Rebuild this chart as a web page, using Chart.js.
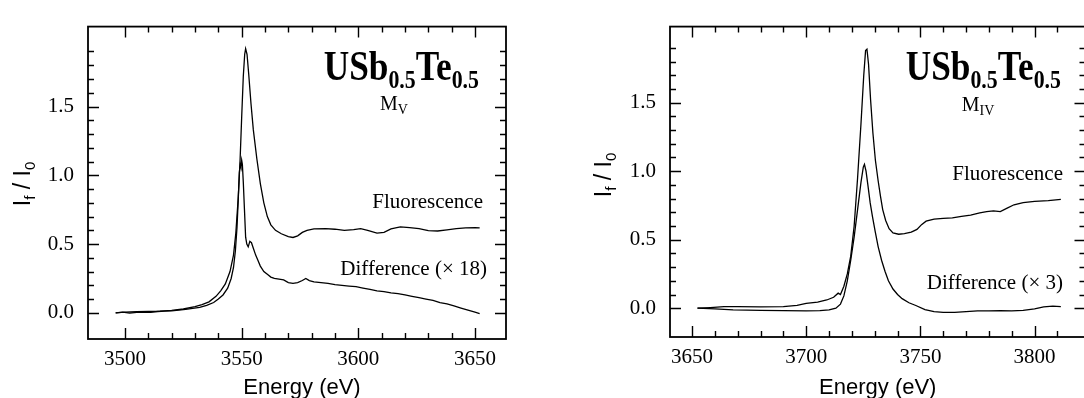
<!DOCTYPE html>
<html><head><meta charset="utf-8">
<script src="https://cdn.jsdelivr.net/npm/chart.js@4.4.0/dist/chart.umd.min.js"></script>
<style>
html,body{margin:0;padding:0;background:#fff;overflow:hidden;width:1084px;height:398px;}
#w1{position:absolute;left:0;top:0;width:540px;height:398px;}
#w2{position:absolute;left:544px;top:0;width:560px;height:398px;}
</style></head><body>
<div id="w1"><canvas id="c1"></canvas></div>
<div id="w2"><canvas id="c2"></canvas></div>
<script>
// ---------- M_V panel data ----------
const mvFluoE = [3496,3500,3505,3510,3515,3520,3525,3530,3533,3536,3539,3541,3543,3545,3546.5,3547.5,3548.5,3549.3,3550,3550.7,3551.3,3551.7,3552.3,3553,3554,3555,3556.5,3558,3559.5,3561,3562.5,3564.5,3567,3570,3572,3574,3576,3578,3581,3586,3590,3594,3598,3601,3604,3608,3611,3614,3618,3622,3626,3630,3634,3638,3642,3646,3650,3652];
const mvFluo  = [0.00,0.005,0.008,0.01,0.012,0.018,0.028,0.045,0.06,0.08,0.12,0.16,0.21,0.30,0.42,0.58,0.83,1.10,1.42,1.72,1.88,1.92,1.88,1.74,1.52,1.33,1.12,0.94,0.80,0.70,0.64,0.60,0.575,0.555,0.548,0.56,0.585,0.60,0.61,0.612,0.608,0.60,0.605,0.612,0.60,0.58,0.585,0.61,0.625,0.62,0.612,0.598,0.595,0.603,0.612,0.618,0.62,0.618];
const mvDiffE = [3496,3499,3502,3505,3508,3511,3514,3517,3520,3523,3526,3529,3532,3535,3538,3540,3542,3544,3545.5,3546.5,3547.3,3548,3548.6,3549,3549.4,3549.7,3550,3550.3,3550.7,3551.2,3551.7,3552.2,3552.8,3553.5,3554.2,3555,3556,3557,3558,3559.5,3561,3562.5,3564,3566,3568,3570,3572,3574,3576,3577.5,3579,3581,3584,3587,3590,3593,3596,3599,3602,3605,3608,3611,3614,3617,3620,3623,3626,3629,3632,3635,3638,3641,3644,3647,3650,3652];
const mvDiff  = [0.00,0.005,-0.002,0.004,0.006,0.003,0.01,0.012,0.015,0.02,0.025,0.032,0.04,0.055,0.075,0.10,0.13,0.18,0.25,0.33,0.45,0.62,0.85,1.02,1.08,1.06,1.11,1.08,0.95,0.75,0.55,0.50,0.48,0.52,0.51,0.47,0.42,0.38,0.34,0.30,0.28,0.26,0.25,0.245,0.24,0.22,0.215,0.22,0.235,0.25,0.235,0.225,0.22,0.215,0.205,0.20,0.195,0.19,0.18,0.17,0.16,0.155,0.145,0.14,0.13,0.12,0.11,0.10,0.09,0.075,0.065,0.05,0.035,0.02,0.005,-0.005];

// ---------- M_IV panel data ----------
const mivFluoE = [3652.4,3658,3664,3670,3680,3690,3696,3700,3705,3709,3712,3714,3715,3716.5,3718,3719.5,3721,3722.5,3724,3725.2,3726,3726.6,3727.3,3728.2,3729.2,3730.3,3731.5,3732.5,3733.5,3734.8,3736.3,3738,3740.5,3743,3746,3748.5,3750.5,3752.5,3756,3760,3764,3768,3772,3776,3779,3782,3785,3788,3791,3795,3800,3806,3811.5];
const mivFluo  = [0.00,0.005,0.012,0.012,0.01,0.012,0.02,0.035,0.045,0.06,0.08,0.11,0.10,0.16,0.25,0.38,0.60,0.95,1.35,1.70,1.88,1.89,1.78,1.52,1.28,1.08,0.93,0.82,0.72,0.64,0.58,0.55,0.54,0.545,0.555,0.575,0.61,0.635,0.65,0.655,0.66,0.67,0.68,0.695,0.705,0.71,0.705,0.73,0.755,0.77,0.78,0.785,0.795];
const mivDiffE = [3652.4,3660,3668,3680,3690,3700,3706,3710,3713,3715,3716.5,3718,3719.5,3721,3722.5,3724,3725,3725.5,3726.2,3727,3728,3729,3730.2,3731.5,3733,3734.5,3736,3738,3740,3742,3745,3748,3752,3756,3760,3765,3770,3775,3780,3785,3790,3795,3800,3804,3808,3811.5];
const mivDiff  = [0.00,-0.005,-0.012,-0.015,-0.018,-0.02,-0.018,-0.012,0.00,0.03,0.09,0.20,0.35,0.52,0.72,0.92,1.03,1.05,1.00,0.90,0.77,0.67,0.56,0.45,0.35,0.27,0.20,0.14,0.10,0.07,0.04,0.02,-0.01,-0.025,-0.03,-0.03,-0.025,-0.02,-0.02,-0.018,-0.02,-0.015,-0.005,0.01,0.015,0.012];

// ---------- tick labels ----------
const mvXTicks  = [3500,3550,3600,3650];
const mivXTicks = [3650,3700,3750,3800];
const yTicks    = [0.0,0.5,1.0,1.5];

const SERIF = '"Liberation Serif","DejaVu Serif",serif';
const SANS  = '"Liberation Sans",Arial,sans-serif';

function pts(xs, ys){ return xs.map((x,i)=>({x:x,y:ys[i]})); }

function drawParts(ctx, parts, x, y){
  let cx = x;
  for (const p of parts){
    ctx.font = p.font;
    ctx.fillText(p.t, cx, y + (p.dy||0));
    cx += ctx.measureText(p.t).width;
  }
  return cx - x;
}
function partsWidth(ctx, parts){
  let w = 0;
  for (const p of parts){ ctx.font = p.font; w += ctx.measureText(p.t).width; }
  return w;
}

const framePlugin = {
  id: 'frame',
  afterDraw(chart, args, o){
    const {ctx, chartArea:a} = chart;
    const x = chart.scales.x, y = chart.scales.y;
    ctx.save();
    ctx.strokeStyle = '#000';
    ctx.lineWidth = 1.8;
    ctx.strokeRect(a.left, a.top, a.right - a.left, a.bottom - a.top);
    ctx.lineWidth = 1.4;
    ctx.beginPath();
    const nx = Math.round((o.xMinor[1]-o.xMinor[0])/o.xMinor[2]);
    for (let i=0;i<=nx;i++){
      const v = o.xMinor[0] + i*o.xMinor[2];
      const px = Math.round(x.getPixelForValue(v)) + 0.5;
      const major = o.xMajor.some(m=>Math.abs(m-v)<1e-6);
      const L = major ? 11 : 6;
      ctx.moveTo(px, a.bottom); ctx.lineTo(px, a.bottom - L);
      ctx.moveTo(px, a.top); ctx.lineTo(px, a.top + L);
    }
    const ny = Math.round((o.yMinor[1]-o.yMinor[0])/o.yMinor[2]);
    for (let i=0;i<=ny;i++){
      const v = o.yMinor[0] + i*o.yMinor[2];
      const py = Math.round(y.getPixelForValue(v)) + 0.5;
      const major = o.yMajor.some(m=>Math.abs(m-v)<1e-6);
      const L = major ? 11 : 6;
      ctx.moveTo(a.left, py); ctx.lineTo(a.left + L, py);
      ctx.moveTo(a.right, py); ctx.lineTo(a.right - L, py);
    }
    ctx.stroke();

    ctx.fillStyle = '#000';
    ctx.textBaseline = 'alphabetic';
    // x axis title
    ctx.font = '22px ' + SANS;
    ctx.textAlign = 'center';
    ctx.fillText('Energy (eV)', (a.left + a.right)/2 + o.xTitleDx, o.xTitleY);
    ctx.textAlign = 'left';
    // y axis title (rotated)
    const yParts = [
      {t:'I', font:'23px '+SANS},
      {t:'f', font:'15px '+SANS, dy:5},
      {t:' / I', font:'23px '+SANS},
      {t:'0', font:'15px '+SANS, dy:5}
    ];
    ctx.save();
    ctx.translate(o.yTitle[0], o.yTitle[1]);
    ctx.rotate(-Math.PI/2);
    const yw = partsWidth(ctx, yParts);
    drawParts(ctx, yParts, -yw/2, 8);
    ctx.restore();

    // compound title
    const sx = 0.84;
    const tParts = [
      {t:'USb', font:'bold 42px '+SERIF},
      {t:'0.5', font:'bold 26px '+SERIF, dy:8},
      {t:'Te', font:'bold 42px '+SERIF},
      {t:'0.5', font:'bold 26px '+SERIF, dy:8}
    ];
    const tw = partsWidth(ctx, tParts) * sx;
    ctx.save();
    ctx.translate(o.title[0] - tw, o.title[1]);
    ctx.scale(sx, 1);
    drawParts(ctx, tParts, 0, 0);
    ctx.restore();

    // edge label
    const eParts = [
      {t:'M', font:'20px '+SERIF},
      {t:o.edge, font:'14px '+SERIF, dy:4}
    ];
    const ew = partsWidth(ctx, eParts);
    drawParts(ctx, eParts, o.edgePos[0] - ew/2, o.edgePos[1]);

    // curve labels
    ctx.font = '21px ' + SERIF;
    ctx.textAlign = 'right';
    ctx.fillText('Fluorescence', o.fluoLab[0], o.fluoLab[1]);
    ctx.fillText(o.diffText, o.diffLab[0], o.diffLab[1]);
    ctx.restore();
  }
};

function makeChart(id, cfg){
  const ds = (d)=>({data:d, borderColor:'#000', borderWidth:1.3, pointRadius:0, tension:0, fill:false});
  return new Chart(document.getElementById(id), {
    type:'line',
    data:{datasets:[ds(cfg.fluo), ds(cfg.diff)]},
    options:{
      responsive:true, maintainAspectRatio:false, animation:false, devicePixelRatio:1,
      layout:{padding:{top:cfg.top, right:cfg.padRight, left:0, bottom:0}},
      plugins:{legend:{display:false}, tooltip:{enabled:false}, frame:cfg.frame},
      scales:{
        x:{type:'linear', min:cfg.xmin, max:cfg.xmax,
           grid:{display:false, drawTicks:false}, border:{display:false},
           afterBuildTicks:(s)=>{ s.ticks = cfg.xTicks.map(v=>({value:v})); },
           afterFit:(s)=>{ s.height = cfg.xh; },
           ticks:{color:'#000', font:{family:SERIF, size:21}, padding:cfg.xPad, maxRotation:0, autoSkip:false,
                  callback:(v)=>String(v)}},
        y:{type:'linear', min:cfg.ymin, max:cfg.ymax,
           grid:{display:false, drawTicks:false}, border:{display:false},
           afterBuildTicks:(s)=>{ s.ticks = yTicks.map(v=>({value:v})); },
           afterFit:(s)=>{ s.width = cfg.yw; },
           ticks:{color:'#000', font:{family:SERIF, size:21}, padding:14, autoSkip:false,
                  callback:(v)=>Number(v).toFixed(1)}}
      }
    },
    plugins:[framePlugin]
  });
}

makeChart('c1', {
  fluo:pts(mvFluoE, mvFluo), diff:pts(mvDiffE, mvDiff),
  xmin:3484.14, xmax:3663.29, ymin:-0.190, ymax:2.081,
  top:12, padRight:34, xh:59, yw:88, xPad:8, xTicks:mvXTicks,
  frame:{xMinor:[3500,3650,10], xMajor:mvXTicks, yMinor:[0,1.9,0.1], yMajor:yTicks,
         xTitleDx:5, xTitleY:394, yTitle:[22,184], title:[479,80], edge:'V', edgePos:[394,110],
         fluoLab:[483,208], diffText:'Difference (\u00d7 18)', diffLab:[487,275]}
});
makeChart('c2', {
  fluo:pts(mivFluoE, mivFluo), diff:pts(mivDiffE, mivDiff),
  xmin:3640.36, xmax:3822.3, ymin:-0.21, ymax:2.055,
  top:10, padRight:18.5, xh:61, yw:126, xPad:8, xTicks:mivXTicks,
  frame:{xMinor:[3650,3810,10], xMajor:mivXTicks, yMinor:[0,1.9,0.1], yMajor:yTicks,
         xTitleDx:0, xTitleY:394, yTitle:[603-544,175], title:[1061-544,80], edge:'IV', edgePos:[978-544,111],
         fluoLab:[1063-544,180], diffText:'Difference (\u00d7 3)', diffLab:[1063-544,289]}
});
</script>
</body></html>
